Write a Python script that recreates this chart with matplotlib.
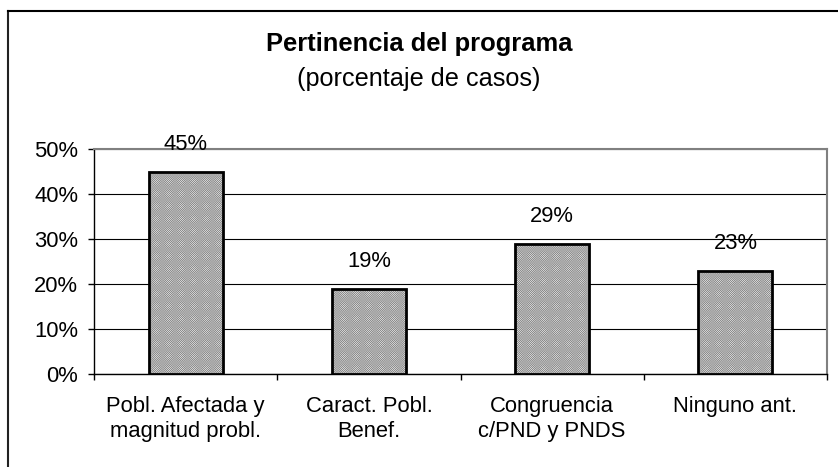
import matplotlib.pyplot as plt
from matplotlib.lines import Line2D
from matplotlib.ticker import PercentFormatter

plt.rcParams['font.family'] = ['Liberation Sans', 'DejaVu Sans']
plt.rcParams['hatch.linewidth'] = 0.35

categorias = ["Pobl. Afectada y\nmagnitud probl.", "Caract. Pobl.\nBenef.",
              "Congruencia\nc/PND y PNDS", "Ninguno ant."]
valores = [0.45, 0.19, 0.29, 0.23]
etiquetas = ["45%", "19%", "29%", "23%"]

fig = plt.figure(figsize=(8.38, 4.67), dpi=100)
ax = fig.add_axes([94/838, 1 - 374/467, (827 - 94)/838, (374 - 149)/467])

x = range(len(valores))
barras = ax.bar(x, valores, width=0.405, color='white', edgecolor='black',
                linewidth=2, hatch='x' * 18, zorder=3)
for b in barras:
    b._hatch_color = (0.55, 0.55, 0.55, 1.0)

# etiquetas de datos
for xi, v, t in zip(x, valores, etiquetas):
    ax.annotate(t, (xi, v), xytext=(0, 12), textcoords='offset points',
                ha='center', va='bottom', fontsize=15.8)

ax.set_xlim(-0.5, 3.5)
ax.set_ylim(0, 0.5)
ax.set_yticks([0, 0.1, 0.2, 0.3, 0.4, 0.5])
ax.yaxis.set_major_formatter(PercentFormatter(1.0, decimals=0))
ax.set_xticks(list(x))
ax.set_xticklabels(categorias, fontsize=15.8, linespacing=1.23)
ax.set_xticks([-0.5, 0.5, 1.5, 2.5, 3.5], minor=True)
ax.tick_params(axis='x', which='major', length=0, pad=16)
ax.tick_params(axis='x', which='minor', length=4.5, width=1, direction='out')
ax.tick_params(axis='y', length=4.5, width=1, direction='out', labelsize=15.8, pad=7)

ax.grid(axis='y', color='black', linewidth=0.8, zorder=0)
ax.set_axisbelow(True)
for s in ['top', 'right']:
    ax.spines[s].set_color('#808080')
    ax.spines[s].set_linewidth(1.5)
for s in ['left', 'bottom']:
    ax.spines[s].set_color('black')
    ax.spines[s].set_linewidth(1)

# titulo
fig.text(0.5, 1 - 44/467, "Pertinencia del programa", ha='center', va='center',
         fontsize=18.4, fontweight='bold')
fig.text(0.5, 1 - 79/467, "(porcentaje de casos)", ha='center', va='center',
         fontsize=18.2)

# marco exterior
fig.add_artist(Line2D([8/838, 8/838], [0, 1 - 11/467], color='#222222', linewidth=1.5))
fig.add_artist(Line2D([8/838, 1], [1 - 11/467, 1 - 11/467], color='black', linewidth=1.5))

fig.savefig('out.png', dpi=100)
